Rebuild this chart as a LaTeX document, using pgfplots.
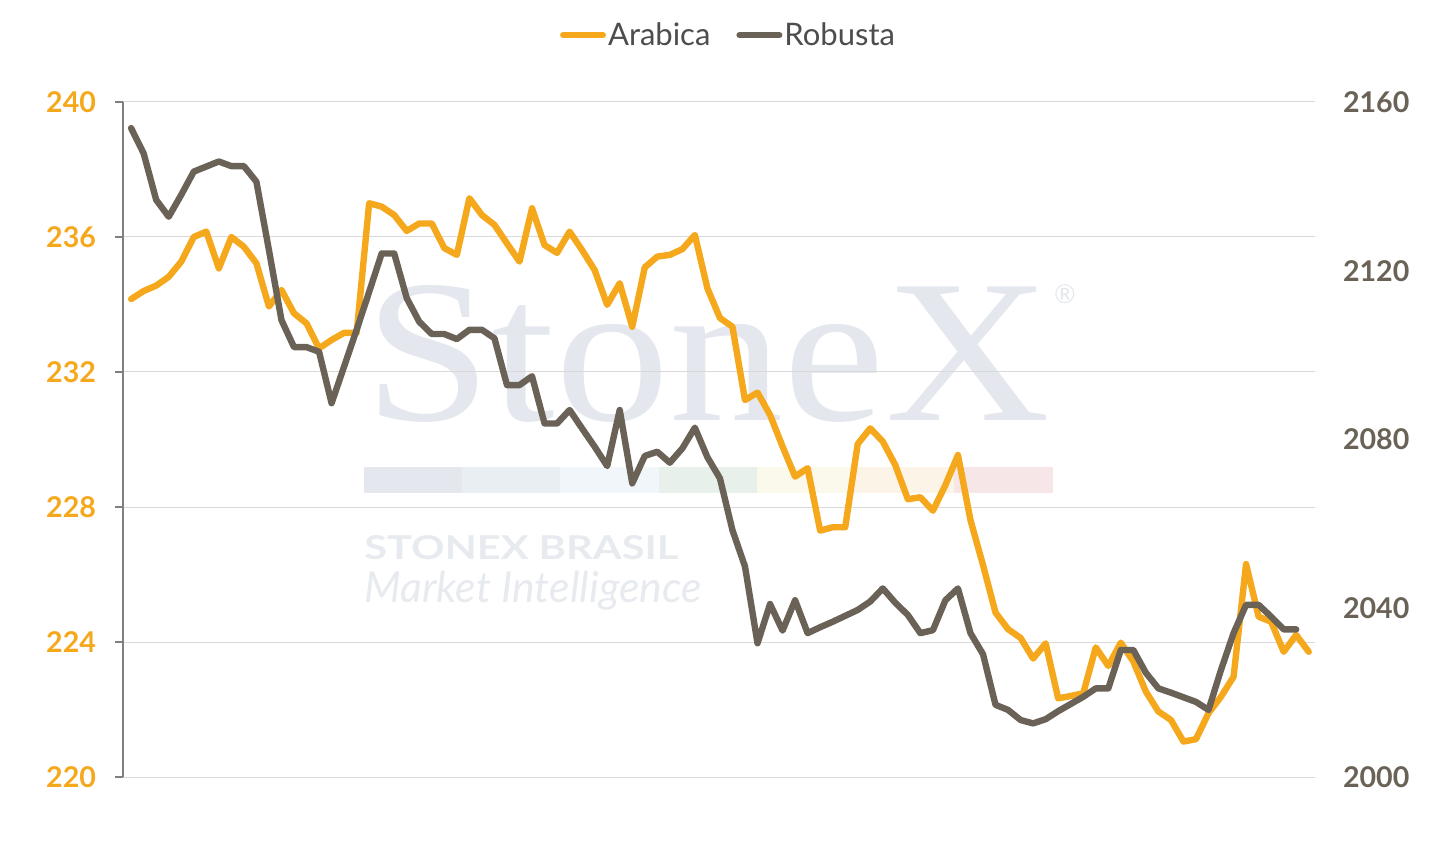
\documentclass[border=0pt]{standalone}
\usepackage{pgfplots}
\pgfplotsset{compat=1.18}
\usepackage{fontspec}
\setmainfont{Lato}
\newfontfamily\wmserif{Liberation Serif}
\definecolor{arab}{HTML}{F5A81C}
\definecolor{robu}{HTML}{6A6257}
\definecolor{gridc}{HTML}{D9D9D9}
\definecolor{axc}{HTML}{7F7F7F}
\definecolor{legtxt}{HTML}{4D4D4D}
\definecolor{wm}{HTML}{E4E8EE}
\definecolor{wmtxt}{HTML}{E7EAEF}
\definecolor{cb1}{HTML}{E4E8EE}
\definecolor{cb2}{HTML}{E9EEF2}
\definecolor{cb3}{HTML}{F1F6FA}
\definecolor{cb4}{HTML}{E7F0EA}
\definecolor{cb5}{HTML}{FBF9EC}
\definecolor{cb6}{HTML}{FDF4E8}
\definecolor{cb7}{HTML}{F6E6E8}

\pgfplotstableread{
i v
0 234.16
1 234.40
2 234.56
3 234.82
4 235.27
5 236.00
6 236.16
7 235.07
8 236.00
9 235.71
10 235.22
11 233.94
12 234.43
13 233.74
14 233.44
15 232.70
16 232.95
17 233.16
18 233.16
19 237.00
20 236.90
21 236.65
22 236.18
23 236.40
24 236.40
25 235.67
26 235.47
27 237.15
28 236.65
29 236.36
30 235.81
31 235.27
32 236.85
33 235.76
34 235.53
35 236.16
36 235.61
37 235.02
38 233.99
39 234.63
40 233.34
41 235.10
42 235.42
43 235.47
44 235.64
45 236.06
46 234.48
47 233.60
48 233.34
49 231.17
50 231.39
51 230.73
52 229.79
53 228.90
54 229.15
55 227.30
56 227.40
57 227.40
58 229.87
59 230.33
60 229.94
61 229.24
62 228.23
63 228.29
64 227.89
65 228.65
66 229.54
67 227.61
68 226.28
69 224.87
70 224.38
71 224.12
72 223.51
73 223.96
74 222.33
75 222.40
76 222.48
77 223.84
78 223.29
79 223.98
80 223.42
81 222.53
82 221.94
83 221.69
84 221.05
85 221.12
86 221.89
87 222.38
88 222.97
89 226.31
90 224.75
91 224.60
92 223.71
93 224.21
94 223.71
}\arabica

\pgfplotstableread{
i v
0 2153.8
1 2147.8
2 2136.8
3 2132.8
4 2138.0
5 2143.5
6 2144.7
7 2145.9
8 2144.8
9 2144.8
10 2141.1
11 2124.9
12 2108.3
13 2101.9
14 2101.9
15 2100.8
16 2088.6
17 2097.3
18 2106.0
19 2115.0
20 2124.1
21 2124.1
22 2113.5
23 2107.9
24 2105.0
25 2105.0
26 2103.8
27 2106.0
28 2106.0
29 2104.0
30 2092.9
31 2092.9
32 2095.0
33 2083.8
34 2083.8
35 2087.0
36 2082.6
37 2078.3
38 2073.7
39 2087.0
40 2069.6
41 2076.1
42 2077.1
43 2074.5
44 2077.9
45 2082.8
46 2075.8
47 2070.8
48 2058.5
49 2049.9
50 2031.7
51 2041.0
52 2034.7
53 2041.9
54 2034.1
55 2035.5
56 2036.8
57 2038.2
58 2039.6
59 2041.6
60 2044.7
61 2041.3
62 2038.4
63 2034.1
64 2034.8
65 2041.9
66 2044.7
67 2034.1
68 2029.1
69 2017.1
70 2015.9
71 2013.5
72 2012.7
73 2013.7
74 2015.6
75 2017.3
76 2019.0
77 2021.0
78 2021.0
79 2030.1
80 2030.1
81 2024.7
82 2021.0
83 2020.0
84 2018.9
85 2017.8
86 2015.9
87 2025.4
88 2034.1
89 2040.8
90 2040.8
91 2038.0
92 2035.0
93 2035.0
}\robusta

\pgfplotsset{
  common/.style={
    width=596pt, height=337.5pt, scale only axis,
    at={(0pt,0pt)}, anchor=south west,
    xmin=-0.65, xmax=94.5,
    axis x line=none,
    xtick=\empty,
    /pgf/number format/assume math mode=true,
    /pgf/number format/set thousands separator={},
    clip=false,
  },
}

\begin{document}
\begin{tikzpicture}
\path[use as bounding box] (-61.5pt,-32.5pt) rectangle (665pt,388.5pt);
% watermark
\node[anchor=base west, inner sep=0pt, text=wm] at (120.5pt,178.5pt)
  {\resizebox{343pt}{67.5pt}{\wmserif StoneX}};
\node[inner sep=0pt, text=wm] at (471pt,241.5pt) {\fontsize{13}{13}\selectfont\textregistered};
\fill[cb1] (120.5pt,141.85pt) rectangle (169.5pt,154.85pt);
\fill[cb2] (169.5pt,141.85pt) rectangle (218.5pt,154.85pt);
\fill[cb3] (218.5pt,141.85pt) rectangle (268pt,154.85pt);
\fill[cb4] (268pt,141.85pt) rectangle (317pt,154.85pt);
\fill[cb5] (317pt,141.85pt) rectangle (366.5pt,154.85pt);
\fill[cb6] (366.5pt,141.85pt) rectangle (415.5pt,154.85pt);
\fill[cb7] (415.5pt,141.85pt) rectangle (465pt,154.85pt);
\node[anchor=base west, inner sep=0pt, text=wmtxt] at (120.5pt,109pt)
  {\resizebox{157pt}{12pt}{\bfseries STONEX BRASIL}};
\node[anchor=base west, inner sep=0pt, text=wmtxt] at (120.5pt,87.5pt)
  {\resizebox{168.5pt}{!}{\itshape Market Intelligence}};

\begin{axis}[common,
  ymin=220, ymax=240, ytick={220,224,...,240},
  axis y line*=left,
  y axis line style={draw=axc, line width=0.75pt},
  ytick style={draw=axc, line width=0.75pt},
  tick align=outside, major tick length=4pt,
  ymajorgrids, grid style={draw=gridc, line width=0.5pt},
  yticklabel style={font=\bfseries\fontsize{14.3}{14}\selectfont, text=arab, xshift=-6pt},
]
\addplot[arab, line width=3.2pt, line join=round, line cap=round] table[x=i,y=v] {\arabica};
\end{axis}

\begin{axis}[common,
  ymin=2000, ymax=2160, ytick={2000,2040,...,2160},
  axis y line*=right,
  y axis line style={draw=none},
  major tick length=0pt,
  yticklabel style={font=\bfseries\fontsize{14.3}{14}\selectfont, text=robu, xshift=10.5pt},
  legend columns=2,
  legend style={draw=none, fill=none, at={(0.508,1.099)}, anchor=center,
    font=\fontsize{15.5}{16}\selectfont, text=legtxt,
    /tikz/every even column/.append style={column sep=12pt},
    nodes={inner sep=1pt}},
  legend image code/.code={\draw[#1, line width=3pt, line cap=round] (0pt,0pt) -- (20pt,0pt);},
]
\addlegendimage{arab}
\addlegendentry{Arabica}
\addplot[robu, line width=3.2pt, line join=round, line cap=round] table[x=i,y=v] {\robusta};
\addlegendentry{Robusta}
\end{axis}
\end{tikzpicture}
\end{document}
